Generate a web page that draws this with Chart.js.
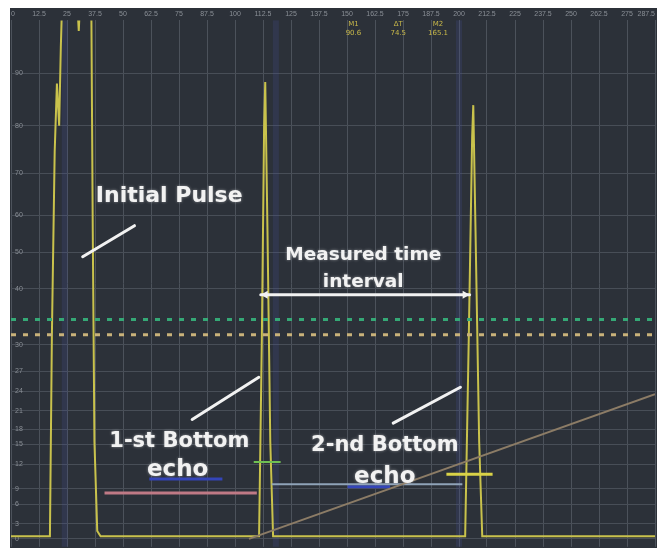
<!DOCTYPE html>
<html>
<head>
<meta charset="utf-8">
<script src="https://cdn.jsdelivr.net/npm/chart.js@4/dist/chart.umd.min.js"></script>
<style>
  body { margin: 0; background: #fff; }
  #wrap { position: absolute; left: 0; top: 0; width: 657px; height: 555px; }
</style>
</head>
<body>
<div id="wrap"><canvas id="scope"></canvas></div>
<script>
// 受信波形（時間 µs / 振幅 %）
const echoX = [0, 13.9, 14.6, 15.6, 16.4, 17.2, 17.8, 18.6, 23, 24.2, 25.2, 28.6, 29.2, 29.8, 30.8, 32,
               88.6, 89.6, 90.4, 90.8, 91.6, 92.6, 93.6, 95,
               162.2, 163.5, 164.7, 165.1, 165.9, 167.2, 168.3, 170, 230];
const echoY = [2, 2, 40, 75, 88, 80, 95, 110, 110, 98, 110, 110, 60, 20, 3, 2,
               2, 40, 80, 88.3, 60, 20, 2, 2,
               2, 40, 78, 83.9, 60, 20, 2, 2, 2];

// しきい値ライン
const gateLevel = 43.2;
const trigLevel = 40.3;

// ゲートとマーカー
const gate1X = [33.4, 87.8];  const gate1Y = [10.2, 10.2];
const gate2X = [93.1, 161.2]; const gate2Y = [11.9, 11.9];
const mark1X = [86.7, 96.3];  const mark1Y = [16.1, 16.1];
const mark2X = [155.5, 172];  const mark2Y = [13.8, 13.8];
const tvgX = [85, 230];       const tvgY = [1.5, 29];
const under1X = [49.4, 75.5]; const under1Y = [12.9, 12.9];
const under2X = [120.2, 135.4]; const under2Y = [11.4, 11.4];

// 薄い縦の帯（カーソル）
const bandX = [19.2, 94.6, 160];

// 目盛り
const xTicks = [0, 10, 20, 30, 40, 50, 60, 70, 80, 90, 100, 110, 120, 130, 140, 150, 160, 170, 180, 190, 200, 210, 220, 230];
const xTickLabels = ['0', '12.5', '25', '37.5', '50', '62.5', '75', '87.5', '100', '112.5', '125', '137.5', '150',
                     '162.5', '175', '187.5', '200', '212.5', '225', '237.5', '250', '262.5', '275', '287.5'];
const yTicks = [90, 80, 71, 63, 56, 49, 38.4, 33.3, 29.5, 25.8, 22.3, 19.5, 15.7, 11, 8.1, 4.4, 1.5];
const yTickLabels = ['90', '80', '70', '60', '50', '40', '30', '27', '24', '21', '18', '15', '12', '9', '6', '3', '0'];

// 上部の測定値
const readoutText = [['M1', '90.6'], ['ΔT', '74.5'], ['M2', '165.1']];
const readoutX = [122.3, 138.3, 152.5];

// 注釈
const labelText = ['Initial Pulse', 'Measured time', 'interval', '1-st Bottom', 'echo', '2-nd Bottom', 'echo'];
const labelX = [56.5, 125.8, 125.8, 60.1, 59.5, 133.5, 133.5];
const labelY = [66.5, 55.4, 50.3, 20.0, 14.5, 19.3, 13.2];
const labelSize = [22, 18.5, 18.5, 21, 23, 21, 23];
const pointerFrom = [[25.6, 55.1], [64.7, 24.2], [136.5, 23.5]];
const pointerTo = [[44.1, 61.0], [88.5, 32.2], [160.5, 30.3]];
const spanX = [89.2, 163.8];
const spanY = 47.9;

function pts(xs, ys) {
    return xs.map((x, i) => ({ x: x, y: ys[i] }));
}

function seg(xs, ys, color, width, dash) {
    return {
        data: pts(xs, ys),
        borderColor: color,
        borderWidth: width,
        borderDash: dash || [],
        pointRadius: 0,
        tension: 0
    };
}

const screenBg = {
    id: 'screenBg',
    beforeDraw(chart) {
        const c = chart.ctx;
        c.save();
        c.fillStyle = '#ffffff';
        c.fillRect(0, 0, chart.width, chart.height);
        c.fillStyle = '#2c3139';
        c.fillRect(10, 8, chart.width - 10, 540);
        c.restore();
    },
    beforeDatasetsDraw(chart) {
        // カーソルの帯
        const c = chart.ctx, a = chart.chartArea;
        c.save();
        c.fillStyle = 'rgba(70,78,160,0.2)';
        bandX.forEach(v => {
            const x = chart.scales.x.getPixelForValue(v);
            c.fillRect(x - 3, a.top, 6, a.bottom - a.top);
        });
        c.restore();
    }
};

const notes = {
    id: 'notes',
    afterDatasetsDraw(chart) {
        const c = chart.ctx;
        const xs = chart.scales.x, ys = chart.scales.y;
        c.save();

        // 上部の読み値
        c.fillStyle = '#c9b94a';
        c.font = '7px "DejaVu Sans", sans-serif';
        c.textAlign = 'center';
        c.textBaseline = 'middle';
        for (let i = 0; i < readoutText.length; i++) {
            const x = xs.getPixelForValue(readoutX[i]);
            c.fillText(readoutText[i][0], x, 24);
            c.fillText(readoutText[i][1], x, 33);
        }

        c.strokeStyle = '#f2f2f2';
        c.lineWidth = 3;
        c.lineCap = 'round';
        for (let i = 0; i < pointerFrom.length; i++) {
            c.beginPath();
            c.moveTo(xs.getPixelForValue(pointerFrom[i][0]), ys.getPixelForValue(pointerFrom[i][1]));
            c.lineTo(xs.getPixelForValue(pointerTo[i][0]), ys.getPixelForValue(pointerTo[i][1]));
            c.stroke();
        }
        // 測定区間の矢印
        const x1 = xs.getPixelForValue(spanX[0]), x2 = xs.getPixelForValue(spanX[1]);
        const y = ys.getPixelForValue(spanY);
        c.beginPath();
        c.moveTo(x1, y); c.lineTo(x2, y);
        c.stroke();
        c.fillStyle = '#f2f2f2';
        c.beginPath();
        c.moveTo(x1, y); c.lineTo(x1 + 7, y - 4); c.lineTo(x1 + 7, y + 4); c.fill();
        c.beginPath();
        c.moveTo(x2, y); c.lineTo(x2 - 7, y - 4); c.lineTo(x2 - 7, y + 4); c.fill();

        c.shadowColor = 'rgba(255,255,255,0.45)';
        c.shadowBlur = 3;
        for (let i = 0; i < labelText.length; i++) {
            c.font = 'bold ' + labelSize[i] + 'px "DejaVu Sans", sans-serif';
            c.fillText(labelText[i], xs.getPixelForValue(labelX[i]), ys.getPixelForValue(labelY[i]));
        }
        c.restore();
    }
};

const ctx = document.getElementById('scope').getContext('2d');

new Chart(ctx, {
    type: 'line',
    data: {
        datasets: [
            seg([0, 230], [gateLevel, gateLevel], '#35a876', 3, [5, 7]),
            seg([0, 230], [trigLevel, trigLevel], '#c9b27a', 3, [5, 7]),
            seg(tvgX, tvgY, '#8c7c66', 2),
            seg(gate1X, gate1Y, '#c07a86', 3),
            seg(gate2X, gate2Y, '#8fa3b8', 2),
            seg(under1X, under1Y, '#3445b8', 3),
            seg(under2X, under2Y, '#3445b8', 3),
            seg(mark1X, mark1Y, '#6fbf52', 2),
            seg(mark2X, mark2Y, '#d9d247', 3),
            seg(echoX, echoY, '#c9c24c', 2)
        ]
    },
    options: {
        responsive: true,
        maintainAspectRatio: false,
        animation: false,
        layout: { padding: { left: 3, top: 8, right: 0, bottom: 7 } },
        plugins: {
            legend: { display: false },
            tooltip: { enabled: false }
        },
        scales: {
            x: {
                type: 'linear',
                position: 'top',
                min: 0,
                max: 230,
                afterBuildTicks: (axis) => { axis.ticks = xTicks.map(v => ({ value: v })); },
                ticks: {
                    color: '#8a8f96',
                    font: { size: 7 },
                    padding: 2,
                    maxRotation: 0,
                    autoSkip: false,
                    align: 'inner',
                    callback: (v) => xTickLabels[xTicks.indexOf(v)]
                },
                grid: { color: '#4c525b', lineWidth: 1, drawTicks: false },
                border: { display: false }
            },
            y: {
                type: 'linear',
                min: 0,
                max: 100,
                afterBuildTicks: (axis) => { axis.ticks = yTicks.map(v => ({ value: v })); },
                ticks: {
                    mirror: true,
                    color: '#8a8f96',
                    font: { size: 7 },
                    padding: 4,
                    autoSkip: false,
                    callback: (v) => yTickLabels[yTicks.indexOf(v)]
                },
                grid: { color: '#484e57', lineWidth: 1, drawTicks: false },
                border: { display: false }
            }
        }
    },
    plugins: [screenBg, notes]
});
</script>
</body>
</html>
